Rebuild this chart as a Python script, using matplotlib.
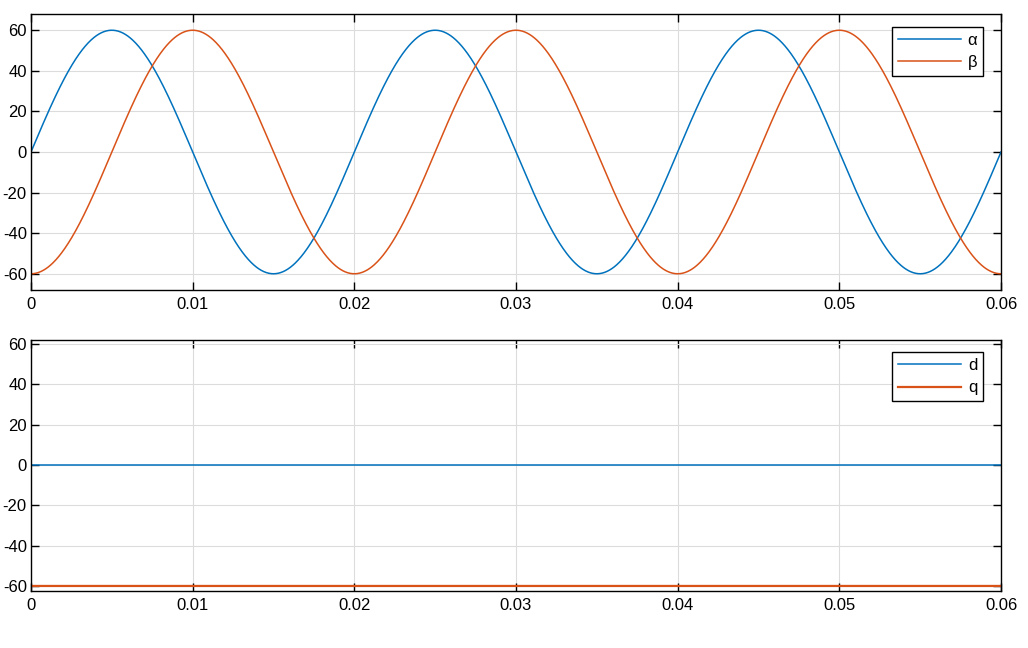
import numpy as np
import matplotlib
matplotlib.use("Agg")
import matplotlib.pyplot as plt

plt.rcParams['font.family'] = ['Liberation Sans', 'DejaVu Sans']
plt.rcParams['axes.unicode_minus'] = False

# Values
amplitude = 60.0          # peak of alpha/beta
frequency = 50.0          # Hz (period 0.02 s)
t_end = 0.06
d_value = 0.0
q_value = -60.0
xticks = [0, 0.01, 0.02, 0.03, 0.04, 0.05, 0.06]
xticklabels = ['0', '0.01', '0.02', '0.03', '0.04', '0.05', '0.06']
yticks = [-60, -40, -20, 0, 20, 40, 60]
top_labels = ['α', 'β']
bottom_labels = ['d', 'q']

t = np.linspace(0, t_end, 2001)
alpha = amplitude * np.sin(2 * np.pi * frequency * t)
beta = -amplitude * np.cos(2 * np.pi * frequency * t)
d = np.full_like(t, d_value)
q = np.full_like(t, q_value)

blue = '#0072BD'
orange = '#D95319'

fig = plt.figure(figsize=(10.28, 6.48), dpi=100)
W, H = 1028, 648
ax1 = fig.add_axes([31 / W, 1 - 290 / H, (1001 - 31) / W, (290 - 14) / H])
ax2 = fig.add_axes([31 / W, 1 - 591 / H, (1001 - 31) / W, (591 - 340) / H])

def style(ax, ylim):
    ax.set_xlim(0, t_end)
    ax.set_ylim(*ylim)
    ax.set_xticks(xticks)
    ax.set_xticklabels(xticklabels)
    ax.set_yticks(yticks)
    ax.set_yticklabels([str(v) for v in yticks])
    ax.grid(True, color='#dcdcdc', linewidth=0.8)
    ax.set_axisbelow(True)
    ax.tick_params(direction='in', top=True, right=True, length=6, width=1,
                   labelsize=12, colors='black')
    ax.tick_params(axis='y', pad=3)
    ax.tick_params(axis='x', pad=5)
    for s in ax.spines.values():
        s.set_linewidth(1.0)
        s.set_color('black')

def legend(ax, labels_anchor_y):
    leg = ax.legend(loc='upper right', bbox_to_anchor=(983 / W, 1 - labels_anchor_y / H),
                    bbox_transform=fig.transFigure, borderaxespad=0,
                    fontsize=12, fancybox=False, framealpha=1,
                    edgecolor='black', handlelength=3.8,
                    handletextpad=0.4, labelspacing=0.45, borderpad=0.35)
    leg.get_frame().set_linewidth(1.0)
    return leg

ax1.plot(t, alpha, color=blue, linewidth=1.1, label=top_labels[0])
ax1.plot(t, beta, color=orange, linewidth=1.1, label=top_labels[1])
style(ax1, (-68, 68))
legend(ax1, 27)

ax2.plot(t, d, color=blue, linewidth=1.1, label=bottom_labels[0])
ax2.plot(t, q, color=orange, linewidth=1.6, label=bottom_labels[1])
style(ax2, (-62.5, 62))
legend(ax2, 352)

fig.savefig('out.png', dpi=100)
